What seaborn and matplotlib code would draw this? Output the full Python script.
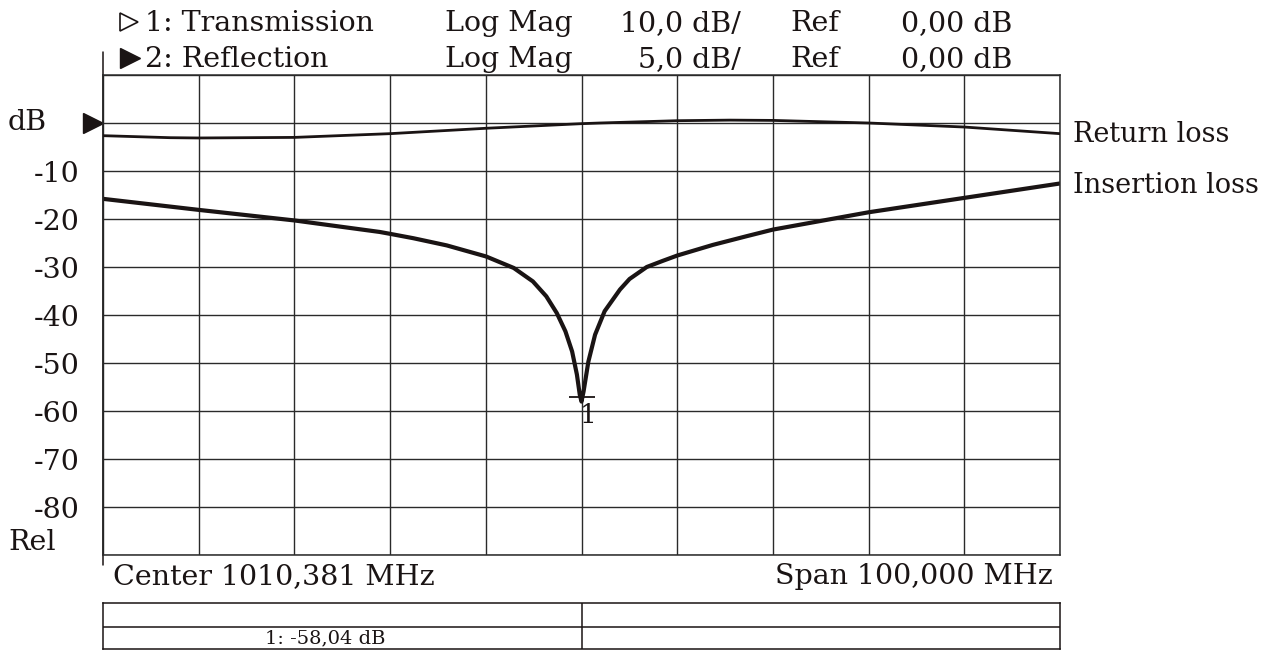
import numpy as np
import pandas as pd
import matplotlib
matplotlib.use("Agg")
import matplotlib.pyplot as plt
import matplotlib.transforms as mtransforms
import seaborn as sns

# sweep: center 1010,381 MHz, span 100 MHz
center_mhz = 1010.381
span_mhz = 100.0

# channel 1: transmission (insertion loss), 10 dB/div
il_freq = [960.381, 970.381, 980.381, 989.3, 990.4, 992.8, 996.3, 1000.4,
           1003.3, 1005.3, 1006.7, 1007.8, 1008.7, 1009.4, 1009.9, 1010.2,
           1010.381, 1010.6, 1011.1, 1011.8, 1012.8, 1014.4, 1015.4, 1017.2,
           1018.9, 1020.4, 1024.1, 1027.6, 1030.4, 1040.381, 1050.381, 1060.381]
il_db = [-15.8, -18.1, -20.3, -22.7, -23.1, -24.0, -25.5, -27.8,
         -30.2, -33.0, -36.1, -39.6, -43.4, -47.6, -52.4, -56.6,
         -58.04, -55.9, -49.7, -44.1, -39.2, -34.7, -32.5, -30.0,
         -28.7, -27.6, -25.4, -23.6, -22.2, -18.6, -15.6, -12.6]

# channel 2: reflection (return loss), 5 dB/div
rl_freq = [960.381, 967.4, 970.381, 980.381, 990.381, 1000.381, 1010.381,
           1012.3, 1020.381, 1025.9, 1030.381, 1040.381, 1050.381, 1060.381]
rl_db = [-1.32, -1.53, -1.56, -1.50, -1.11, -0.55, -0.07,
         0.0, 0.24, 0.30, 0.27, 0.0, -0.42, -1.11]

marker_freq = 1010.381
marker_db = -58.04

y_ticks = [-90, -80, -70, -60, -50, -40, -30, -20, -10, 0, 10]
y_tick_labels = ["", "-80", "-70", "-60", "-50", "-40", "-30", "-20", "-10", "", ""]

sns.set_theme(style="white")
plt.rcParams["font.family"] = ["DejaVu Serif", "DejaVu Sans"]
ink = "#1a1414"
fs = 20.5

W, H = 1284, 651
fig = plt.figure(figsize=(W / 100, H / 100), dpi=100)

def fx(px):
    return px / W

def fy(py):
    return 1 - py / H

ax = fig.add_axes([fx(103), fy(555), fx(1060) - fx(103), fy(75) - fy(555)])

il = pd.DataFrame({"freq": il_freq, "db": il_db})
sns.lineplot(data=il, x="freq", y="db", ax=ax, color=ink, lw=3.0, sort=False)

ax.set_xlim(center_mhz - span_mhz / 2, center_mhz + span_mhz / 2)
ax.set_ylim(-90, 10)
ax.set_xticks(np.arange(center_mhz - span_mhz / 2, center_mhz + span_mhz / 2 + 1, 10))
ax.set_yticks(y_ticks)
ax.set_yticklabels(y_tick_labels, fontsize=fs, color=ink)
ax.set_xticklabels([])
ax.tick_params(axis="both", length=0)
ax.tick_params(axis="y", pad=17)
ax.grid(True, color="#2a2a2a", lw=1.0)
ax.set_xlabel("")
ax.set_ylabel("")
for sp in ax.spines.values():
    sp.set_color("#2a2a2a")
    sp.set_linewidth(1.1)

# reflection trace on its own scale (5 dB/div, ref 0 dB)
ax2 = ax.twinx()
rl = pd.DataFrame({"freq": rl_freq, "db": rl_db})
sns.lineplot(data=rl, x="freq", y="db", ax=ax2, color=ink, lw=2.0)
ax2.set_ylim(-45, 5)
ax2.axis("off")

# marker 1
ax.plot([marker_freq], [marker_db + 1.0], marker="_", markersize=19, mew=1.3,
        color=ink, clip_on=False)
ax.annotate("1", (marker_freq, marker_db), xytext=(5, -1), textcoords="offset points",
            ha="center", va="top", fontsize=19, color=ink)

# left frame line extending past the grid
ax.plot([0, 0], [-10 / 480, 1 + 23 / 480], transform=ax.transAxes, color=ink,
        lw=1.1, clip_on=False)

# reference position arrow
trans = mtransforms.blended_transform_factory(ax.transAxes, ax.transData)
ax.plot([-0.0105], [0], marker=">", markersize=14, color=ink, transform=trans,
        clip_on=False)

fig.text(fx(8), fy(123), "dB", fontsize=fs, color=ink, va="center", ha="left")
fig.text(fx(8), fy(543), "Rel", fontsize=fs, color=ink, va="center", ha="left")

# header: channel triangles
ax.plot([fx(129)], [fy(22)], marker=">", markersize=13, mew=1.2, mfc="white",
        mec=ink, transform=fig.transFigure, clip_on=False)
ax.plot([fx(130)], [fy(58)], marker=">", markersize=14, color=ink,
        transform=fig.transFigure, clip_on=False)

hdr_rows = [
    ("1: Transmission", "Log Mag", "10,0 dB/", "Ref", "0,00 dB"),
    ("2: Reflection", "Log Mag", "5,0 dB/", "Ref", "0,00 dB"),
]
for yb, row in zip([31, 67], hdr_rows):
    fig.text(fx(145), fy(yb), row[0], fontsize=fs, color=ink, va="baseline", ha="left")
    fig.text(fx(445), fy(yb), row[1], fontsize=fs, color=ink, va="baseline", ha="left")
    fig.text(fx(741), fy(yb), row[2], fontsize=fs, color=ink, va="baseline", ha="right")
    fig.text(fx(790), fy(yb), row[3], fontsize=fs, color=ink, va="baseline", ha="left")
    fig.text(fx(1012), fy(yb), row[4], fontsize=fs, color=ink, va="baseline", ha="right")

# trace labels
fig.text(fx(1073), fy(135), "Return loss", fontsize=19.5, color=ink, va="center", ha="left")
fig.text(fx(1073), fy(185), "Insertion loss", fontsize=19.5, color=ink, va="center", ha="left")

# sweep info
fig.text(fx(113), fy(584), "Center 1010,381 MHz", fontsize=fs, color=ink,
         va="baseline", ha="left")
fig.text(fx(1053), fy(584), "Span 100,000 MHz", fontsize=fs, color=ink,
         va="baseline", ha="right")

# marker table
tab = fig.add_axes([fx(103), fy(649), fx(1060) - fx(103), fy(603) - fy(649)])
tab.set_xlim(0, 1)
tab.set_ylim(0, 2)
tab.axhline(0.96, color=ink, lw=1.1)
tab.axvline(0.5, color=ink, lw=1.1)
tab.set_xticks([])
tab.set_yticks([])
for sp in tab.spines.values():
    sp.set_color(ink)
    sp.set_linewidth(1.1)
tab.text(fx(325 - 103) / (fx(1060) - fx(103)), 0.45, "1: -58,04 dB", fontsize=14,
         color=ink, ha="center", va="center")

fig.savefig("out.png", dpi=100, facecolor="white")
